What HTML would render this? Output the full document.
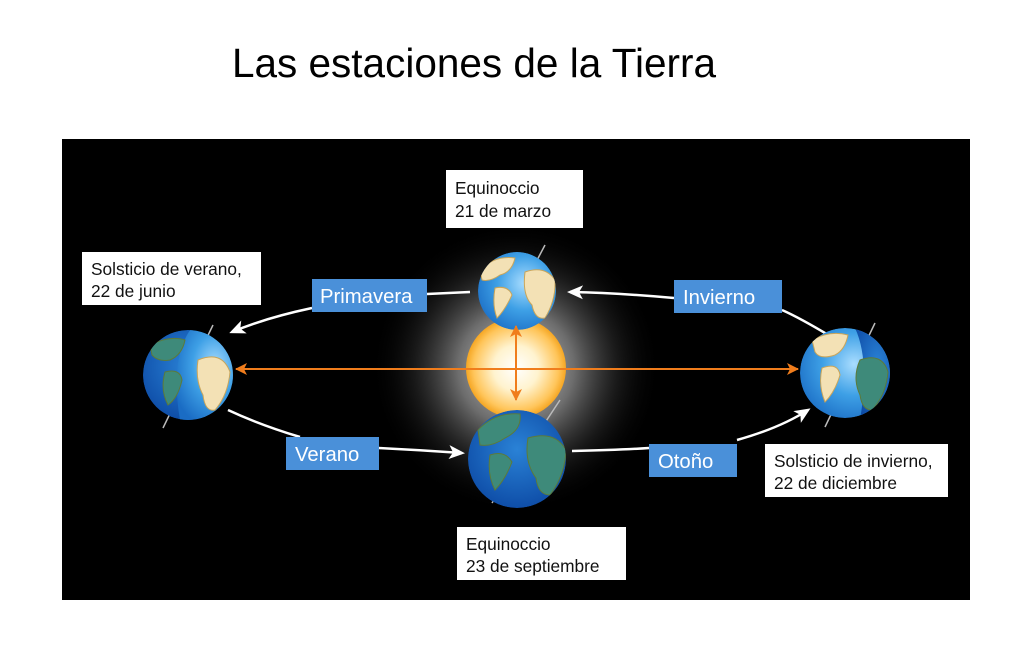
<!DOCTYPE html>
<html><head><meta charset="utf-8"><style>
html,body{margin:0;padding:0;background:#fff;}
svg{display:block;}
</style></head><body>
<svg width="1024" height="651" viewBox="0 0 1024 651" xmlns="http://www.w3.org/2000/svg" font-family="Liberation Sans, Arial, sans-serif">
<defs>
<radialGradient id="glow" cx="0.5" cy="0.5" r="0.5">
<stop offset="0" stop-color="#dddddd" stop-opacity="1"/>
<stop offset="0.4" stop-color="#888" stop-opacity="0.8"/>
<stop offset="0.7" stop-color="#333" stop-opacity="0.5"/>
<stop offset="1" stop-color="#000" stop-opacity="0"/>
</radialGradient>
<radialGradient id="sun" cx="0.5" cy="0.5" r="0.5">
<stop offset="0" stop-color="#ffffff"/>
<stop offset="0.45" stop-color="#fff3cf"/>
<stop offset="0.85" stop-color="#ffc55a"/>
<stop offset="1" stop-color="#f5a623"/>
</radialGradient>
<radialGradient id="lit" cx="0.6" cy="0.4" r="0.7">
<stop offset="0" stop-color="#a9ddff"/>
<stop offset="0.5" stop-color="#3ea0e6"/>
<stop offset="1" stop-color="#1a6cc4"/>
</radialGradient>
<radialGradient id="dark" cx="0.5" cy="0.4" r="0.7">
<stop offset="0" stop-color="#2a82d6"/>
<stop offset="1" stop-color="#0a45a0"/>
</radialGradient>
<marker id="wa" markerWidth="16" markerHeight="16" refX="13" refY="8" orient="auto" markerUnits="userSpaceOnUse">
<path d="M0,1 L16,8 L0,15 L4,8 Z" fill="#fff"/>
</marker>
<marker id="oa" markerWidth="12" markerHeight="12" refX="11" refY="6" orient="auto-start-reverse" markerUnits="userSpaceOnUse">
<path d="M0,0 L12,6 L0,12 L3,6 Z" fill="#f07d1c"/>
</marker>
<clipPath id="cT"><circle cx="517" cy="291" r="39"/></clipPath>
<clipPath id="cB"><circle cx="517" cy="459" r="49"/></clipPath>
<clipPath id="cL"><circle cx="188" cy="375" r="45"/></clipPath>
<clipPath id="cR"><circle cx="845" cy="373" r="45"/></clipPath>
</defs>

<text x="474" y="77" font-size="40.5" text-anchor="middle" fill="#000">Las estaciones de la Tierra</text>

<rect x="62" y="139" width="908" height="461" fill="#000"/>

<circle cx="516" cy="368" r="145" fill="url(#glow)"/>

<!-- orbit arrows -->
<g fill="none" stroke="#fff" stroke-width="2.5">
<path d="M470,292 L427,294"/>
<path d="M312,308 Q265,318 232,332" marker-end="url(#wa)"/>
<path d="M830,336 Q800,318 782,310"/>
<path d="M674,298 Q620,293 570,292" marker-end="url(#wa)"/>
<path d="M228,410 Q260,425 300,437"/>
<path d="M379,448 Q420,450 462,453" marker-end="url(#wa)"/>
<path d="M572,451 Q620,450 649,448"/>
<path d="M737,440 Q780,428 808,410" marker-end="url(#wa)"/>
</g>

<!-- axes -->
<g stroke="#bbb" stroke-width="1.5">
<line x1="545" y1="245" x2="495" y2="340"/>
<line x1="560" y1="400" x2="492" y2="503"/>
<line x1="213" y1="325" x2="163" y2="428"/>
<line x1="875" y1="323" x2="825" y2="427"/>
</g>

<!-- sun -->
<circle cx="516" cy="368" r="50" fill="url(#sun)"/>

<!-- top earth -->
<g clip-path="url(#cT)">
<circle cx="517" cy="291" r="39" fill="url(#lit)"/>
<path d="M480,270 Q495,255 515,258 Q512,272 500,275 Q490,282 482,280Z" fill="#f3e1b5" stroke="#c9a55a"/>
<path d="M495,288 Q508,285 512,295 Q505,310 497,318 Q492,305 495,288Z" fill="#f3e1b5" stroke="#c9a55a"/>
<path d="M525,272 Q545,265 555,280 Q556,300 545,318 Q535,320 532,305 Q522,295 525,272Z" fill="#f3e1b5" stroke="#c9a55a"/>
</g>

<!-- bottom earth -->
<g clip-path="url(#cB)">
<circle cx="517" cy="459" r="49" fill="url(#dark)"/>
<path d="M478,430 Q495,412 520,414 Q522,430 505,438 Q492,447 480,445Z" fill="#3e8a7a" stroke="#5c7a3a"/>
<path d="M490,455 Q505,450 512,462 Q505,480 495,490 Q487,475 490,455Z" fill="#3e8a7a" stroke="#5c7a3a"/>
<path d="M528,438 Q555,430 566,450 Q565,475 550,495 Q538,495 536,478 Q524,462 528,438Z" fill="#3e8a7a" stroke="#5c7a3a"/>
</g>

<!-- left earth (summer) -->
<g clip-path="url(#cL)">
<circle cx="188" cy="375" r="45" fill="url(#dark)"/>
<path d="M190,330 Q170,360 180,420 L240,420 L240,330Z" fill="url(#lit)"/>
<path d="M150,345 Q170,335 185,340 Q182,355 170,360 Q158,362 152,355Z" fill="#3e8a7a" stroke="#5c7a3a"/>
<path d="M165,372 Q180,368 182,380 Q178,398 168,405 Q160,390 165,372Z" fill="#3e8a7a" stroke="#5c7a3a"/>
<path d="M198,360 Q222,350 230,372 Q228,395 215,410 Q205,412 203,395 Q195,380 198,360Z" fill="#f3e1b5" stroke="#c9a55a"/>
</g>

<!-- right earth (winter) -->
<g clip-path="url(#cR)">
<circle cx="845" cy="373" r="45" fill="url(#lit)"/>
<path d="M855,328 Q870,360 860,420 L900,420 L900,328Z" fill="url(#dark)"/>
<path d="M812,340 Q830,330 848,335 Q845,350 835,355 Q820,360 815,352Z" fill="#f3e1b5" stroke="#c9a55a"/>
<path d="M822,368 Q838,362 840,375 Q835,392 825,402 Q818,385 822,368Z" fill="#f3e1b5" stroke="#c9a55a"/>
<path d="M860,360 Q882,352 888,372 Q886,395 872,410 Q862,410 860,395 Q852,378 860,360Z" fill="#3e8a7a" stroke="#5c7a3a"/>
</g>

<!-- orange lines -->
<g stroke="#f07d1c" stroke-width="2" fill="none">
<line x1="236" y1="369" x2="798" y2="369" marker-start="url(#oa)" marker-end="url(#oa)"/>
<line x1="516" y1="326" x2="516" y2="400" marker-start="url(#oa)" marker-end="url(#oa)"/>
</g>

<!-- white boxes -->
<g font-size="17.3" fill="#111">
<rect x="446" y="170" width="137" height="58" fill="#fff"/>
<text x="455" y="194">Equinoccio</text><text x="455" y="217">21 de marzo</text>
<rect x="82" y="252" width="179" height="53" fill="#fff"/>
<text x="91" y="275">Solsticio de verano,</text><text x="91" y="297">22 de junio</text>
<rect x="457" y="527" width="169" height="53" fill="#fff"/>
<text x="466" y="550">Equinoccio</text><text x="466" y="572">23 de septiembre</text>
<rect x="765" y="444" width="183" height="53" fill="#fff"/>
<text x="774" y="467">Solsticio de invierno,</text><text x="774" y="489">22 de diciembre</text>
</g>

<!-- blue labels -->
<g font-size="20.3" fill="#fff">
<rect x="312" y="279" width="115" height="33" fill="#4a90d9"/><text x="320" y="303">Primavera</text>
<rect x="674" y="280" width="108" height="33" fill="#4a90d9"/><text x="683" y="304">Invierno</text>
<rect x="286" y="437" width="93" height="33" fill="#4a90d9"/><text x="295" y="461">Verano</text>
<rect x="649" y="444" width="88" height="33" fill="#4a90d9"/><text x="658" y="468">Otoño</text>
</g>
</svg>
</body></html>
